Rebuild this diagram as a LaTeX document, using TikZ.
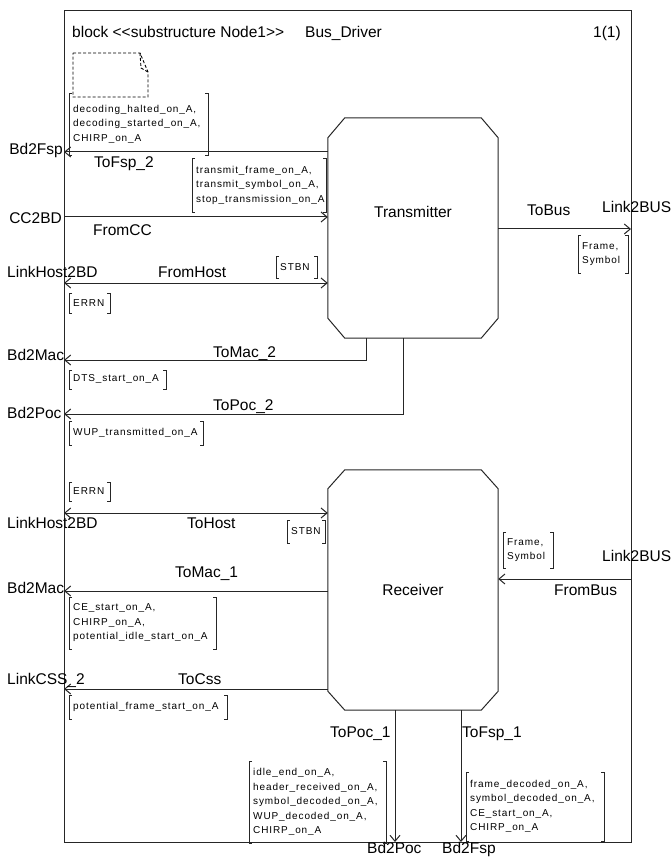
\documentclass[tikz,border=0pt]{standalone}
\usepackage{fontspec}
\setmainfont{Liberation Sans}
\newfontfamily\sigfam[LetterSpace=9]{Liberation Sans}
\newcommand\sigsel{\sigfam\fontsize{10}{14.5}\selectfont\hyphenpenalty=10000\relax}
\newcommand\lblsel{\fontsize{15.5}{18}\selectfont}
\usetikzlibrary{arrows.meta}
\tikzset{
  blk/.style={line width=1pt, draw=black!85},
  lbl/.style={font=\lblsel, inner sep=0pt, text height=11pt, text depth=0pt},
  sig/.style={font=\sigsel, align=left, inner sep=0pt},
  brk/.style={line width=0.9pt, draw=black!85},
  arr/.style={blk, -{Straight Barb[length=6pt,width=10pt]}},
  biarr/.style={blk, {Straight Barb[length=6pt,width=10pt]}-{Straight Barb[length=6pt,width=10pt]}},
  blockshape/.style={inner sep=0pt, font=\lblsel},
}
\newcommand\sigbox[6]{%
  \node[sig, anchor=west] (#1) at ({#2+4},{(#3+#5)/2}) {#6};
  \draw[brk] (#2+3,#3) -- (#2,#3) -- (#2,#5) -- (#2+3,#5);
  \draw[brk] (#4-3,#3) -- (#4,#3) -- (#4,#5) -- (#4-3,#5);
}
\newcommand\octa[2]{%
  \draw[blk] ([xshift=17pt]#1.north west) -- ([xshift=-17pt]#1.north east)
    -- ([yshift=-#2pt]#1.north east) -- ([yshift=#2pt]#1.south east)
    -- ([xshift=-17pt]#1.south east) -- ([xshift=17pt]#1.south west)
    -- ([yshift=#2pt]#1.south west) -- ([yshift=-#2pt]#1.north west) -- cycle;
}
\begin{document}
\begin{tikzpicture}[x=1pt,y=-1pt]
\useasboundingbox (0,0) rectangle (671,858);
% frame
\node[blk, draw, inner sep=0pt, minimum width=567pt, minimum height=832pt, anchor=north west] (frame) at (64,10) {};
\node[lbl, anchor=west] (title) at (72,32) {block <{}<substructure Node1>{}>};
\node[lbl, anchor=west] (bd) at (305,32) {Bus\_Driver};
\node[lbl, anchor=west] (pg) at (593,32) {1(1)};
% dashed note
\draw[line width=0.9pt, dash pattern=on 3pt off 2pt] (73,53) -- (140,53) -- (148,72) -- (148,97) -- (73,97) -- cycle;
\draw[line width=0.9pt, dash pattern=on 3pt off 2pt] (140,53) -- (141,68) -- (148,72);
% blocks
\node[blockshape, minimum width=170pt, minimum height=220pt, text height=11pt, text depth=32pt] (tx) at (413,228) {Transmitter};
\node[blockshape, minimum width=170pt, minimum height=240pt, text height=11pt, text depth=0pt] (rx) at (413,590) {Receiver};
\octa{tx}{20}
\octa{rx}{19}
% ports on the frame
\coordinate (pFspA) at (64,152);
\coordinate (pCC) at (64,217);
\coordinate (pHostA) at (64,283);
\coordinate (pMacA) at (64,360);
\coordinate (pPocA) at (64,414);
\coordinate (pHostB) at (64,513);
\coordinate (pMacB) at (64,591);
\coordinate (pCss) at (64,689);
\coordinate (pBusA) at (631,229);
\coordinate (pBusB) at (631,579);
\coordinate (pPocB) at (395,842);
\coordinate (pFspB) at (461,842);
% connectors
\draw[arr] (tx.west |- pFspA) -- (pFspA);
\draw[arr] (pCC) -- (tx.west |- pCC);
\draw[biarr] (pHostA) -- (tx.west |- pHostA);
\draw[arr] ([xshift=39pt]tx.south west) |- (pMacA);
\draw[arr] ([xshift=76pt]tx.south west) |- (pPocA);
\draw[arr] (tx.east |- pBusA) -- (pBusA);
\draw[biarr] (pHostB) -- (rx.west |- pHostB);
\draw[arr] (rx.west |- pMacB) -- (pMacB);
\draw[arr] (rx.west |- pCss) -- (pCss);
\draw[arr] (pBusB) -- (rx.east |- pBusB);
\draw[arr] (rx.south -| pPocB) -- (pPocB);
\draw[arr] (rx.south -| pFspB) -- (pFspB);
% labels
\node[lbl, anchor=east] (lFspA) at (63,149) {Bd2Fsp};
\node[lbl, anchor=west] (nFspA) at (94,162) {ToFsp\_2};
\node[lbl, anchor=east] (lCC) at (62,218) {CC2BD};
\node[lbl, anchor=west] (nCC) at (93,230) {FromCC};
\node[lbl, anchor=west] (lHostA) at (7,272) {LinkHost2BD};
\node[lbl, anchor=west] (nHostA) at (158,272) {FromHost};
\node[lbl, anchor=west] (lMacA) at (7,355) {Bd2Mac};
\node[lbl, anchor=west] (nMacA) at (213,352) {ToMac\_2};
\node[lbl, anchor=west] (lPocA) at (7,413) {Bd2Poc};
\node[lbl, anchor=west] (nPocA) at (213,405) {ToPoc\_2};
\node[lbl, anchor=west] (lHostB) at (7,523) {LinkHost2BD};
\node[lbl, anchor=west] (nHostB) at (187,523) {ToHost};
\node[lbl, anchor=west] (nMacB) at (175,572) {ToMac\_1};
\node[lbl, anchor=west] (lMacB) at (7,588) {Bd2Mac};
\node[lbl, anchor=west] (lCss) at (7,679) {LinkCSS\_2};
\node[lbl, anchor=west] (nCss) at (178,679) {ToCss};
\node[lbl, anchor=west] (nPocB) at (330,732) {ToPoc\_1};
\node[lbl, anchor=west] (nFspB) at (462,732) {ToFsp\_1};
\node[lbl, anchor=west] (lPocB) at (367,848) {Bd2Poc};
\node[lbl, anchor=west] (lFspB) at (442,848) {Bd2Fsp};
\node[lbl, anchor=west] (nBusA) at (527,210) {ToBus};
\node[lbl, anchor=west] (lBusA) at (602,207) {Link2BUS};
\node[lbl, anchor=west] (lBusB) at (602,556) {Link2BUS};
\node[lbl, anchor=west] (nBusB) at (554,590) {FromBus};
% signal lists
\sigbox{sDec}{69}{93}{208}{155}{decoding\_halted\_on\_A,\\decoding\_started\_on\_A,\\CHIRP\_on\_A}
\sigbox{sTr}{192}{158}{326}{212}{transmit\_frame\_on\_A,\\transmit\_symbol\_on\_A,\\stop\_transmission\_on\_A}
\sigbox{sStA}{276}{256}{317}{278}{STBN}
\sigbox{sErA}{69}{293}{110}{313}{ERRN}
\sigbox{sDts}{69}{370}{166}{389}{DTS\_start\_on\_A}
\sigbox{sWup}{69}{421}{203}{445}{WUP\_transmitted\_on\_A}
\sigbox{sErB}{69}{482}{110}{501}{ERRN}
\sigbox{sStB}{287}{520}{325}{543}{STBN}
\sigbox{sCe}{69}{597}{216}{649}{CE\_start\_on\_A,\\CHIRP\_on\_A,\\potential\_idle\_start\_on\_A}
\sigbox{sPf}{69}{695}{227}{719}{potential\_frame\_start\_on\_A}
\sigbox{sIdle}{249}{761}{386}{843}{idle\_end\_on\_A,\\header\_received\_on\_A,\\symbol\_decoded\_on\_A,\\WUP\_decoded\_on\_A,\\CHIRP\_on\_A}
\sigbox{sFd}{466}{772}{604}{841}{frame\_decoded\_on\_A,\\symbol\_decoded\_on\_A,\\CE\_start\_on\_A,\\CHIRP\_on\_A}
\sigbox{sFsA}{578}{235}{628}{273}{Frame,\\Symbol}
\sigbox{sFsB}{503}{532}{553}{568}{Frame,\\Symbol}
\end{tikzpicture}
\end{document}
